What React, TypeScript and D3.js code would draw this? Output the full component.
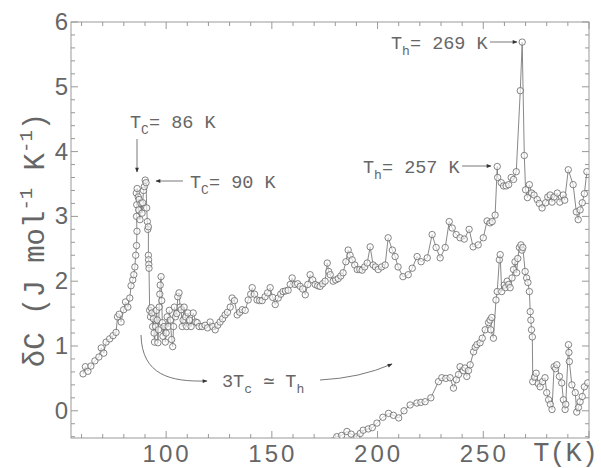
import React from "react";
import * as d3 from "d3";

// upper curve: [T (K), dC]
const upperPoints: [number, number][] = [
  [60.7, 0.57], [61.8, 0.68], [63.0, 0.61], [64.4, 0.69], [66.3, 0.77], [68.2, 0.83], [69.3, 0.97],
  [70.5, 0.89], [71.6, 1.06], [73.3, 1.11], [74.9, 1.16], [76.3, 1.21], [77.0, 1.45], [77.8, 1.49],
  [78.7, 1.37], [79.9, 1.56], [80.8, 1.68], [81.9, 1.6], [82.8, 1.74], [83.4, 1.93], [84.2, 2.02],
  [84.7, 2.1], [85.2, 2.22], [85.6, 2.4], [86.0, 2.55], [86.2, 2.77], [86.0, 3.0], [86.1, 3.18],
  [85.9, 3.36], [86.3, 3.43], [86.8, 3.3], [87.2, 3.26], [87.0, 3.1], [87.6, 2.95], [88.1, 3.2],
  [88.6, 3.05], [88.9, 3.21], [89.3, 3.4], [89.7, 3.46], [90.1, 3.56], [90.5, 3.52], [90.8, 3.13],
  [91.1, 2.92], [91.3, 2.8], [91.6, 2.84], [91.6, 2.4], [91.7, 2.33], [91.8, 2.26], [91.9, 2.2],
  [92.2, 1.55], [92.6, 1.45], [92.9, 1.59], [93.3, 1.51], [93.6, 1.3], [94.0, 1.42], [94.3, 1.2],
  [94.5, 1.06], [95.0, 1.3], [95.4, 1.55], [95.8, 1.4], [96.1, 1.05], [96.4, 1.25], [96.7, 1.6],
  [97.0, 1.8], [97.2, 1.94], [97.6, 2.07], [97.9, 1.7], [98.2, 1.36], [98.5, 1.15], [99.0, 1.3],
  [99.6, 1.06], [100.0, 1.2], [100.5, 1.45], [101.0, 1.3], [101.5, 1.55], [102.0, 1.4], [102.6, 1.1],
  [103.1, 0.99], [103.5, 1.3], [103.9, 1.6], [104.4, 1.45], [105.0, 1.5], [105.5, 1.76], [106.1, 1.82],
  [106.6, 1.6], [107.1, 1.56], [107.6, 1.3], [108.0, 1.4], [108.5, 1.6], [109.2, 1.45], [109.7, 1.3],
  [110.3, 1.51], [111.0, 1.4], [111.8, 1.3], [112.8, 1.51], [114.0, 1.37], [114.7, 1.36], [115.6, 1.3],
  [117.0, 1.3], [118.4, 1.32], [119.6, 1.28], [120.8, 1.37], [122.0, 1.3], [123.2, 1.25], [124.4, 1.32],
  [125.5, 1.37], [126.7, 1.42], [127.9, 1.48], [129.0, 1.52], [130.3, 1.6], [131.2, 1.74], [132.3, 1.7],
  [133.6, 1.48], [134.8, 1.52], [136.0, 1.56], [137.4, 1.55], [138.8, 1.71], [140.0, 1.8], [140.7, 1.9],
  [141.8, 1.8], [143.0, 1.71], [144.2, 1.7], [145.4, 1.7], [146.8, 1.76], [148.0, 1.82], [149.2, 1.9],
  [150.4, 1.75], [151.6, 1.64], [153.0, 1.74], [154.2, 1.8], [155.3, 1.84], [156.5, 1.85], [157.7, 1.86],
  [158.7, 1.95], [159.6, 2.05], [161.0, 1.95], [162.2, 1.96], [163.4, 1.92], [164.6, 1.88], [165.8, 1.79],
  [167.0, 1.95], [168.1, 2.1], [169.3, 2.02], [170.5, 1.95], [171.7, 1.93], [172.8, 1.92], [174.0, 1.96],
  [175.2, 2.0], [176.2, 2.28], [176.9, 2.15], [177.6, 2.1], [179.0, 2.0], [180.2, 2.02], [181.4, 2.04],
  [182.6, 2.08], [183.7, 2.13], [185.0, 2.3], [186.1, 2.48], [187.0, 2.4], [188.0, 2.33], [189.2, 2.25],
  [190.4, 2.18], [191.6, 2.18], [192.7, 2.17], [193.9, 2.22], [195.1, 2.28], [196.5, 2.53], [197.9, 2.25],
  [199.0, 2.22], [200.3, 2.18], [201.9, 2.22], [203.6, 2.25], [205.0, 2.67], [207.0, 2.48], [208.3, 2.38],
  [209.7, 2.22], [212.0, 2.07], [214.5, 2.1], [216.4, 2.2], [218.7, 2.38], [220.6, 2.3], [223.5, 2.36],
  [225.8, 2.72], [227.7, 2.52], [229.6, 2.36], [232.0, 2.52], [233.9, 2.92], [235.3, 2.82], [237.2, 2.72],
  [239.0, 2.67], [241.0, 2.65], [243.3, 2.8], [245.2, 2.53], [247.6, 2.56], [250.0, 2.67], [251.8, 2.93],
  [253.2, 2.9], [254.2, 2.92], [255.6, 3.02], [256.6, 3.77], [256.8, 3.6], [258.5, 3.52], [259.6, 3.47],
  [260.8, 3.47], [262.0, 3.49], [263.2, 3.6], [264.3, 3.57], [265.6, 3.69], [267.5, 4.94], [268.4, 5.69],
  [269.4, 3.94], [270.0, 3.41], [270.9, 3.29], [271.8, 3.49], [272.9, 3.36], [274.0, 3.33], [275.5, 3.26],
  [276.5, 3.2], [277.8, 3.13], [279.5, 3.21], [280.5, 3.3], [281.6, 3.33], [282.5, 3.22], [283.5, 3.3],
  [285.0, 3.36], [286.2, 3.22], [287.8, 3.33], [288.5, 3.25], [290.2, 3.72], [292.5, 3.49], [294.0, 3.07],
  [294.9, 2.95], [295.8, 3.1], [296.8, 3.21], [297.8, 3.35], [299.0, 3.69],
];

// lower curve
const lowerPoints: [number, number][] = [
  [178.5, -0.47], [180.7, -0.4], [183.0, -0.38], [185.5, -0.32], [187.5, -0.36], [190.2, -0.4],
  [191.8, -0.35], [193.2, -0.3], [195.6, -0.28], [197.5, -0.26], [199.7, -0.19], [202.5, -0.1],
  [205.2, -0.04], [207.5, -0.07], [210.0, -0.11], [212.5, 0.0], [215.4, 0.09], [218.6, 0.12],
  [220.5, 0.13], [222.5, 0.14], [225.2, 0.2], [228.8, 0.45], [230.4, 0.51], [232.3, 0.5], [234.3, 0.51],
  [235.9, 0.35], [237.3, 0.48], [238.3, 0.56], [239.0, 0.68], [240.5, 0.62], [241.3, 0.66], [242.2, 0.53],
  [243.0, 0.62], [243.8, 0.71], [245.4, 0.91], [246.2, 0.98], [247.0, 1.02], [248.5, 1.05], [249.5, 1.12],
  [250.9, 1.25], [252.5, 1.36], [253.2, 1.4], [254.0, 1.44], [253.5, 1.25], [254.8, 1.12], [256.0, 1.71],
  [256.6, 1.84], [257.6, 2.33], [258.0, 2.41], [258.7, 1.84], [259.9, 1.94], [260.5, 1.9], [261.3, 2.0],
  [262.0, 1.95], [262.7, 1.9], [263.6, 2.05], [264.3, 2.18], [265.0, 2.3], [265.8, 2.13], [266.3, 2.35],
  [267.1, 2.52], [267.8, 2.56], [268.3, 2.48], [268.7, 2.52], [269.8, 2.15], [270.5, 2.05], [271.1, 1.98],
  [271.8, 1.84], [272.2, 1.53], [272.5, 1.4], [272.8, 1.25], [273.2, 1.14], [273.4, 0.45], [274.2, 0.52],
  [275.0, 0.58], [276.0, 0.42], [276.9, 0.37], [278.0, 0.45], [279.2, 0.51], [280.0, 0.28], [280.9, 0.17],
  [281.7, 0.1], [282.5, 0.02], [283.5, 0.68], [284.2, 0.65], [284.8, 0.71], [286.0, 0.53], [287.1, 0.43],
  [287.9, 0.17], [288.7, 0.02], [289.0, 0.1], [290.3, 1.02], [290.5, 0.9], [290.7, 0.76], [291.9, 0.4],
  [293.5, 0.28], [294.2, -0.02], [295.0, 0.05], [295.8, 0.14], [296.8, 0.22], [297.8, 0.37], [299.4, 0.43],
];

const xTickLabels = [100, 150, 200, 250];
const yTickLabels = [0, 1, 2, 3, 4, 5, 6];

const W = 601, H = 468;
const M = { left: 71, right: 589, top: 22, bottom: 438 };
const grey = "#7a7a7a";
const textGrey = "#666";
const mono = "'Liberation Mono', 'DejaVu Sans Mono', monospace";
const sans = "'Liberation Sans', Arial, sans-serif";

export default function App() {
  const x = d3.scaleLinear().domain([55, 300]).range([M.left, M.right]);
  const y = d3.scaleLinear().domain([-0.42, 6]).range([M.bottom, M.top]);

  const line = d3.line<[number, number]>().x(d => x(d[0])).y(d => y(d[1]));
  const xMinor = d3.range(60, 301, 10);
  const yMinor = d3.range(-0.4, 6.001, 0.2);

  const arrowCurve1 = d3.path();
  arrowCurve1.moveTo(141, 335);
  arrowCurve1.bezierCurveTo(142, 375, 170, 382, 207, 381);
  const arrowCurve2 = d3.path();
  arrowCurve2.moveTo(320, 380);
  arrowCurve2.quadraticCurveTo(360, 378, 392, 364);

  return (
    <svg width={W} height={H} style={{ position: "absolute", left: 0, top: 0, background: "#fff" }}>
      <defs>
        <clipPath id="plot">
          <rect x={M.left} y={M.top} width={M.right - M.left} height={M.bottom - M.top} />
        </clipPath>
        <marker id="ah" viewBox="0 0 10 10" refX="9" refY="5" markerWidth="7" markerHeight="6" orient="auto">
          <path d="M0,1 L10,5 L0,9 z" fill="#333" />
        </marker>
      </defs>

      {/* frame */}
      <rect x={M.left} y={M.top} width={M.right - M.left} height={M.bottom - M.top} fill="none" stroke="#999" strokeWidth={1} />

      {/* ticks */}
      {xMinor.map(t => {
        const major = t % 50 === 0;
        const len = major ? 7 : 4;
        return (
          <g key={"xt" + t} stroke="#999" strokeWidth={1}>
            <line x1={x(t)} x2={x(t)} y1={M.bottom} y2={M.bottom - len} />
            <line x1={x(t)} x2={x(t)} y1={M.top} y2={M.top + len} />
          </g>
        );
      })}
      {yMinor.map(v => {
        const major = Math.abs(v - Math.round(v)) < 1e-6;
        const len = major ? 7 : 4;
        return (
          <g key={"yt" + v.toFixed(1)} stroke="#999" strokeWidth={1}>
            <line x1={M.left} x2={M.left + len} y1={y(v)} y2={y(v)} />
            <line x1={M.right} x2={M.right - len} y1={y(v)} y2={y(v)} />
          </g>
        );
      })}

      {/* tick labels */}
      {xTickLabels.map(t => (
        <text key={"xl" + t} x={x(t) + 1} y={462} textAnchor="middle" fontFamily={sans} fontSize={24}
          letterSpacing={3} fill={textGrey}>{t}</text>
      ))}
      {yTickLabels.map(v => (
        <text key={"yl" + v} x={68} y={y(v) + 8} textAnchor="end" fontFamily={sans} fontSize={24} fill={textGrey}>{v}</text>
      ))}

      {/* axis titles */}
      <text x={598} y={461} textAnchor="end" fontFamily={mono} fontSize={27} fill={textGrey}>T(K)</text>
      <text transform="translate(44,240) rotate(-90)" textAnchor="middle" fontFamily={mono} fontSize={29} fill={textGrey}>
        δC (J mol<tspan fontSize={19} dy={-12}>-1</tspan><tspan dy={12}> K</tspan>
        <tspan fontSize={19} dy={-12}>-1</tspan><tspan dy={12}>)</tspan>
      </text>

      {/* data */}
      <g clipPath="url(#plot)">
        <path d={line(upperPoints) || ""} fill="none" stroke={grey} strokeWidth={0.9} />
        <path d={line(lowerPoints) || ""} fill="none" stroke={grey} strokeWidth={0.9} />
        {upperPoints.concat(lowerPoints).map((d, i) => (
          <circle key={i} cx={x(d[0])} cy={y(d[1])} r={3.2} fill="#fff" fillOpacity={0.6} stroke="#666" strokeWidth={0.8} />
        ))}
      </g>

      {/* annotations */}
      <g fontFamily={mono} fontSize={18.5} fill={textGrey}>
        <text x={130} y={128}>T<tspan fontSize={13} dy={6}>C</tspan><tspan dy={-6}>= 86 K</tspan></text>
        <text x={190} y={188}>T<tspan fontSize={13} dy={6}>C</tspan><tspan dy={-6}>= 90 K</tspan></text>
        <text x={363} y={173}>T<tspan fontSize={13} dy={6}>h</tspan><tspan dy={-6}>= 257 K</tspan></text>
        <text x={391} y={49}>T<tspan fontSize={13} dy={6}>h</tspan><tspan dy={-6}>= 269 K</tspan></text>
        <text x={222} y={387}>3T<tspan fontSize={13} dy={6}>c</tspan><tspan dy={-6}> ≃ T</tspan><tspan fontSize={13} dy={6}>h</tspan></text>
      </g>
      <g stroke="#555" strokeWidth={0.8} fill="none">
        <line x1={137} y1={139} x2={137} y2={172} markerEnd="url(#ah)" />
        <line x1={183} y1={181} x2={156} y2={181} markerEnd="url(#ah)" />
        <line x1={462} y1={166} x2={491} y2={166} markerEnd="url(#ah)" />
        <line x1={490} y1={42} x2={517} y2={42} markerEnd="url(#ah)" />
        <path d={arrowCurve1.toString()} markerEnd="url(#ah)" />
        <path d={arrowCurve2.toString()} markerEnd="url(#ah)" />
      </g>
    </svg>
  );
}
